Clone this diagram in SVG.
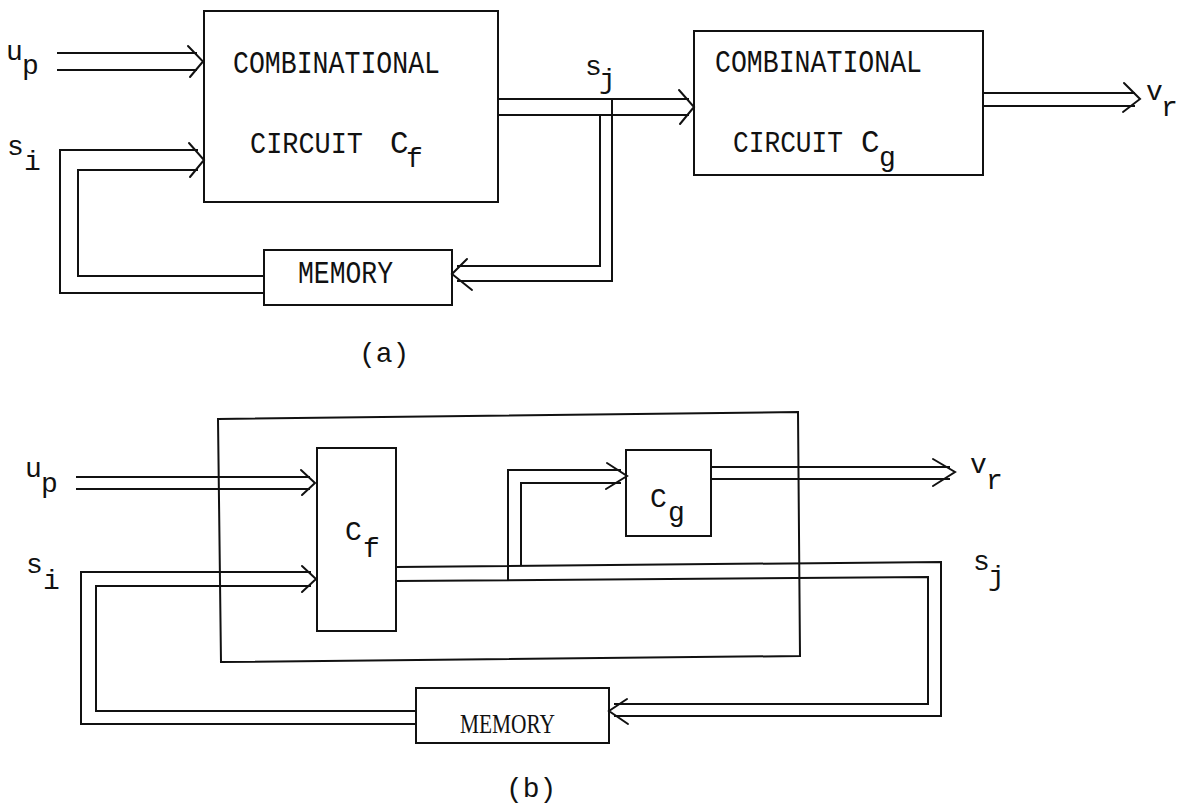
<svg xmlns="http://www.w3.org/2000/svg" width="1183" height="803" viewBox="0 0 1183 803">
<defs>
<style>
.box{fill:none;stroke:#111;stroke-width:2}
.ln{fill:none;stroke:#111;stroke-width:2;stroke-linejoin:miter}
.hd{fill:none;stroke:#111;stroke-width:2;stroke-linejoin:miter;stroke-linecap:round}
.t{font-family:"Liberation Mono","DejaVu Sans Mono",monospace;font-size:31px;fill:#111}
.c{font-family:"Liberation Mono","DejaVu Sans Mono",monospace;font-size:30px;fill:#111}
.s{font-family:"Liberation Mono","DejaVu Sans Mono",monospace;font-size:28px;fill:#111}
.sf{font-family:"Liberation Serif","DejaVu Serif",serif;font-size:28px;fill:#111}
</style>
</defs>
<rect width="1183" height="803" fill="#fff"/>

<!-- ===== (a) ===== -->
<g id="a-cf">
<rect class="box" x="204" y="11" width="294" height="191"/>
<text class="t" x="233" y="73" textLength="207" lengthAdjust="spacingAndGlyphs">COMBINATIONAL</text>
<text class="c" x="250" y="153" textLength="113" lengthAdjust="spacingAndGlyphs">CIRCUIT</text>
<text class="t" x="390" y="153">C</text>
<text class="s" x="406" y="167">f</text>
</g>
<g id="a-cg">
<rect class="box" x="694" y="31" width="289" height="144"/>
<text class="t" x="715" y="72" textLength="207" lengthAdjust="spacingAndGlyphs">COMBINATIONAL</text>
<text class="c" x="733" y="152" textLength="110" lengthAdjust="spacingAndGlyphs">CIRCUIT</text>
<text class="t" x="861" y="152">C</text>
<text class="s" x="879" y="166">g</text>
</g>
<g id="a-mem">
<rect class="box" x="264" y="250" width="188" height="55"/>
<text class="t" x="298" y="283" textLength="95" lengthAdjust="spacingAndGlyphs">MEMORY</text>
</g>
<g id="a-labels">
<text class="s" x="6" y="60">u</text><text class="s" x="22" y="74">p</text>
<text class="s" x="7" y="155">s</text><text class="s" x="24" y="170">i</text>
<text class="s" x="585" y="75">s</text><text class="s" x="599" y="88">j</text>
<text class="s" x="1146" y="100">v</text><text class="s" x="1161" y="116">r</text>
<text class="s" x="359" y="362">(a)</text>
</g>
<g id="a-connectors">
<!-- u_p -->
<path class="ln" d="M57 53H197M57 70H197"/>
<path class="hd" d="M188 46L203 61.5L190 77"/>
<!-- s_i feedback -->
<path class="ln" d="M198 150H60V293H264M198 170H78V276H264"/>
<path class="hd" d="M189 143L204 160L190 177"/>
<!-- Cf to Cg -->
<path class="ln" d="M498 99H689M498 115H689"/>
<path class="hd" d="M679 90L694 107L680 124"/>
<!-- s_j branch to memory -->
<path class="ln" d="M612 99V281H457M600 115V266H457"/>
<path class="hd" d="M467 259L452 274L472 290"/>
<!-- Cg output -->
<path class="ln" d="M983 93H1135M983 106H1135"/>
<path class="hd" d="M1124 83L1140 99L1123 112"/>
</g>

<!-- ===== (b) ===== -->
<g id="b-frame">
<polygon class="box" points="218,419 798,412 800,656 221,662"/>
</g>
<g id="b-cf">
<rect class="box" x="317" y="448" width="79" height="183"/>
<text class="s" x="345" y="540">C</text>
<text class="s" x="363" y="557">f</text>
</g>
<g id="b-cg">
<rect class="box" x="626" y="450" width="85" height="86"/>
<text class="s" x="650" y="507">C</text>
<text class="s" x="668" y="521">g</text>
</g>
<g id="b-mem">
<rect class="box" x="416" y="688" width="193" height="55"/>
<text class="sf" x="460" y="733" textLength="95" lengthAdjust="spacingAndGlyphs">MEMORY</text>
</g>
<g id="b-labels">
<text class="s" x="25" y="477">u</text><text class="s" x="41" y="492">p</text>
<text class="s" x="26" y="573">s</text><text class="s" x="43" y="589">i</text>
<text class="s" x="970" y="473">v</text><text class="s" x="986" y="489">r</text>
<text class="s" x="973" y="570">s</text><text class="s" x="988" y="585">j</text>
<text class="s" x="506" y="797">(b)</text>
</g>
<g id="b-connectors">
<!-- u_p -->
<path class="ln" d="M76 477H310M76 489H310"/>
<path class="hd" d="M301 470L315 483L302 495"/>
<!-- s_i feedback -->
<path class="ln" d="M311 572H81V724H416M311 586H96V711H416"/>
<path class="hd" d="M302 566L316 579L302 592"/>
<!-- Cf output / s_j loop to memory -->
<path class="ln" d="M396 567L941 562V716H614M396 581L928 577V704H614"/>
<path class="hd" d="M627 699L609 711L628 724"/>
<!-- branch to Cg -->
<path class="ln" d="M508 580V470H621M521 566V483H621"/>
<path class="hd" d="M607 463L627 476L606 489"/>
<!-- Cg output -->
<path class="ln" d="M711 467H950M711 479H950"/>
<path class="hd" d="M933 459L955 472L933 486"/>
</g>
</svg>
